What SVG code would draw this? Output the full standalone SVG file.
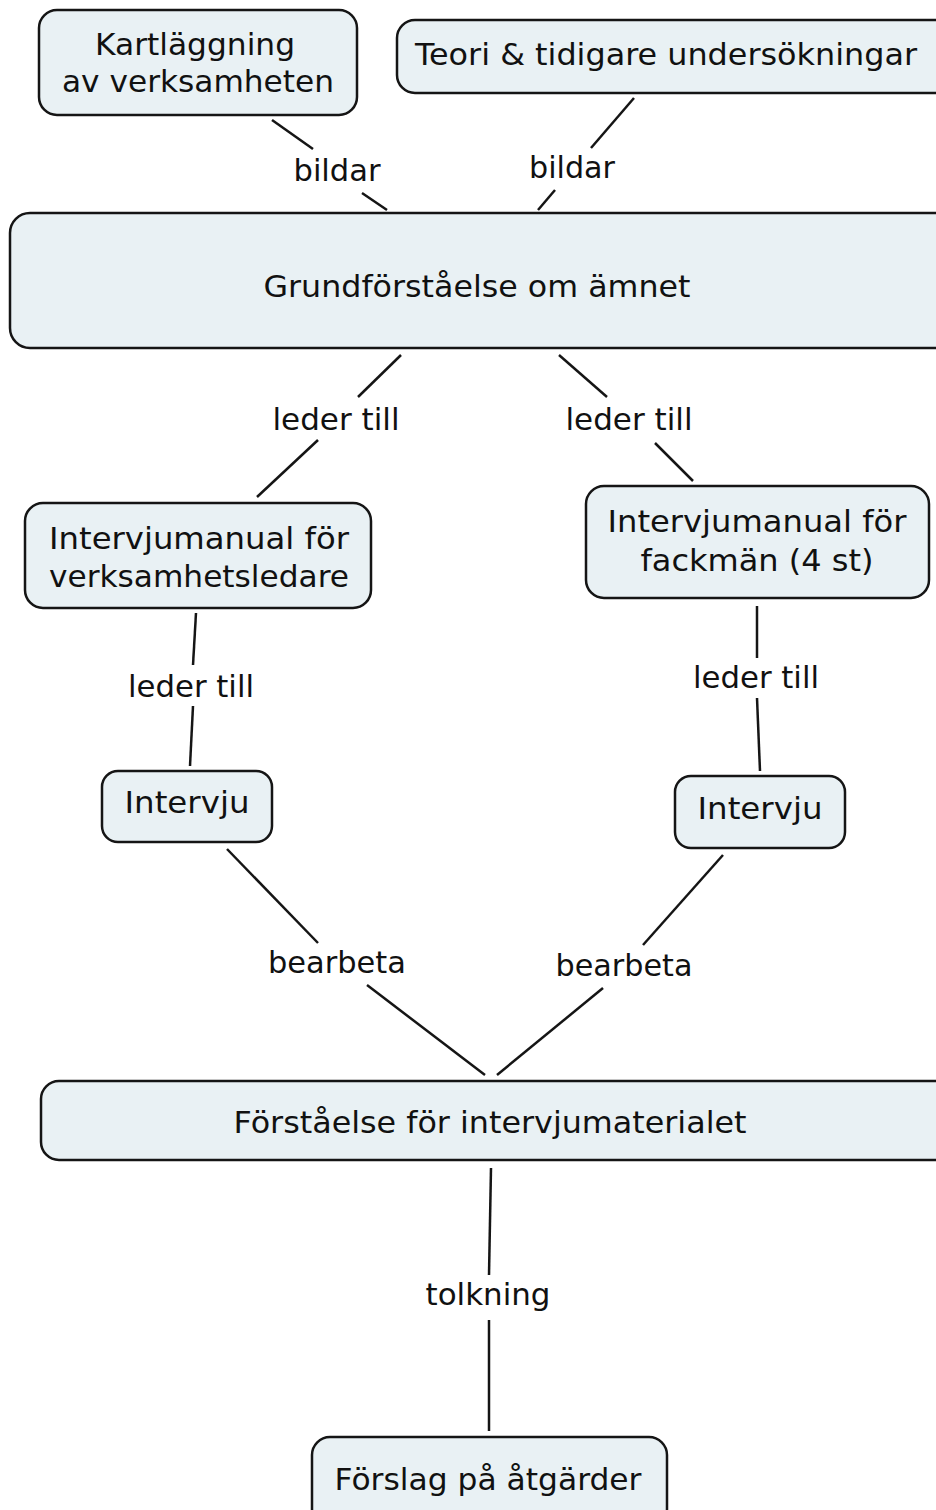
<svg xmlns="http://www.w3.org/2000/svg" width="936" height="1510" viewBox="0 0 936 1510">
<style>
.box{fill:#e9f1f4;stroke:#151515;stroke-width:2.5}
.t{font-family:"DejaVu Sans","Verdana",sans-serif;font-size:31px;fill:#111;text-anchor:middle}
.c line{stroke:#151515;stroke-width:2.5}
</style>
<rect width="936" height="1510" fill="#fff"/>
<g class="c" id="connectors">
<line x1="272" y1="120" x2="313" y2="149"/><line x1="362" y1="193" x2="387" y2="210"/>
<text class="t" x="337" y="181" textLength="87" lengthAdjust="spacingAndGlyphs">bildar</text>
<line x1="634" y1="98" x2="591" y2="148"/><line x1="555" y1="190" x2="538" y2="210"/>
<text class="t" x="572" y="178" textLength="86" lengthAdjust="spacingAndGlyphs">bildar</text>
<line x1="401" y1="355" x2="358" y2="397"/><line x1="318" y1="440" x2="257" y2="497"/>
<text class="t" x="336" y="430" textLength="127" lengthAdjust="spacingAndGlyphs">leder till</text>
<line x1="559" y1="355" x2="607" y2="397"/><line x1="655" y1="443" x2="693" y2="481"/>
<text class="t" x="629" y="430" textLength="127" lengthAdjust="spacingAndGlyphs">leder till</text>
<line x1="196" y1="613" x2="193" y2="665"/><line x1="193" y1="706" x2="190" y2="766"/>
<text class="t" x="191" y="697" textLength="126" lengthAdjust="spacingAndGlyphs">leder till</text>
<line x1="757" y1="606" x2="757" y2="658"/><line x1="757" y1="698" x2="760" y2="771"/>
<text class="t" x="756" y="688" textLength="126" lengthAdjust="spacingAndGlyphs">leder till</text>
<line x1="227" y1="849" x2="318" y2="943"/><line x1="367" y1="985" x2="485" y2="1075"/>
<text class="t" x="337" y="973" textLength="138" lengthAdjust="spacingAndGlyphs">bearbeta</text>
<line x1="723" y1="855" x2="643" y2="945"/><line x1="603" y1="988" x2="497" y2="1075"/>
<text class="t" x="624" y="976" textLength="137" lengthAdjust="spacingAndGlyphs">bearbeta</text>
<line x1="491" y1="1168" x2="489" y2="1275"/><line x1="489" y1="1320" x2="489" y2="1431"/>
<text class="t" x="488" y="1305" textLength="125" lengthAdjust="spacingAndGlyphs">tolkning</text>
</g>
<g id="n1"><rect class="box" x="39" y="10" width="318" height="105" rx="18"/>
<text class="t" x="195" y="55" textLength="200" lengthAdjust="spacingAndGlyphs">Kartläggning</text>
<text class="t" x="198" y="92" textLength="272" lengthAdjust="spacingAndGlyphs">av verksamheten</text></g>
<g id="n2"><rect class="box" x="397" y="20" width="560" height="73" rx="18"/>
<text class="t" x="666" y="65" textLength="502" lengthAdjust="spacingAndGlyphs">Teori &amp; tidigare undersökningar</text></g>
<g id="n3"><rect class="box" x="10" y="213" width="950" height="135" rx="20"/>
<text class="t" x="477" y="297" textLength="427" lengthAdjust="spacingAndGlyphs">Grundförståelse om ämnet</text></g>
<g id="n4"><rect class="box" x="25" y="503" width="346" height="105" rx="18"/>
<text class="t" x="199" y="549" textLength="300" lengthAdjust="spacingAndGlyphs">Intervjumanual för</text>
<text class="t" x="199" y="587" textLength="300" lengthAdjust="spacingAndGlyphs">verksamhetsledare</text></g>
<g id="n5"><rect class="box" x="586" y="486" width="343" height="112" rx="18"/>
<text class="t" x="757" y="532" textLength="299" lengthAdjust="spacingAndGlyphs">Intervjumanual för</text>
<text class="t" x="757" y="571" textLength="233" lengthAdjust="spacingAndGlyphs">fackmän (4 st)</text></g>
<g id="n6"><rect class="box" x="102" y="771" width="170" height="71" rx="16"/>
<text class="t" x="187" y="813" textLength="125" lengthAdjust="spacingAndGlyphs">Intervju</text></g>
<g id="n7"><rect class="box" x="675" y="776" width="170" height="72" rx="16"/>
<text class="t" x="760" y="819" textLength="125" lengthAdjust="spacingAndGlyphs">Intervju</text></g>
<g id="n8"><rect class="box" x="41" y="1081" width="920" height="79" rx="18"/>
<text class="t" x="490" y="1133" textLength="513" lengthAdjust="spacingAndGlyphs">Förståelse för intervjumaterialet</text></g>
<g id="n9"><rect class="box" x="312" y="1437" width="355" height="90" rx="18"/>
<text class="t" x="488" y="1490" textLength="307" lengthAdjust="spacingAndGlyphs">Förslag på åtgärder</text></g>
</svg>
